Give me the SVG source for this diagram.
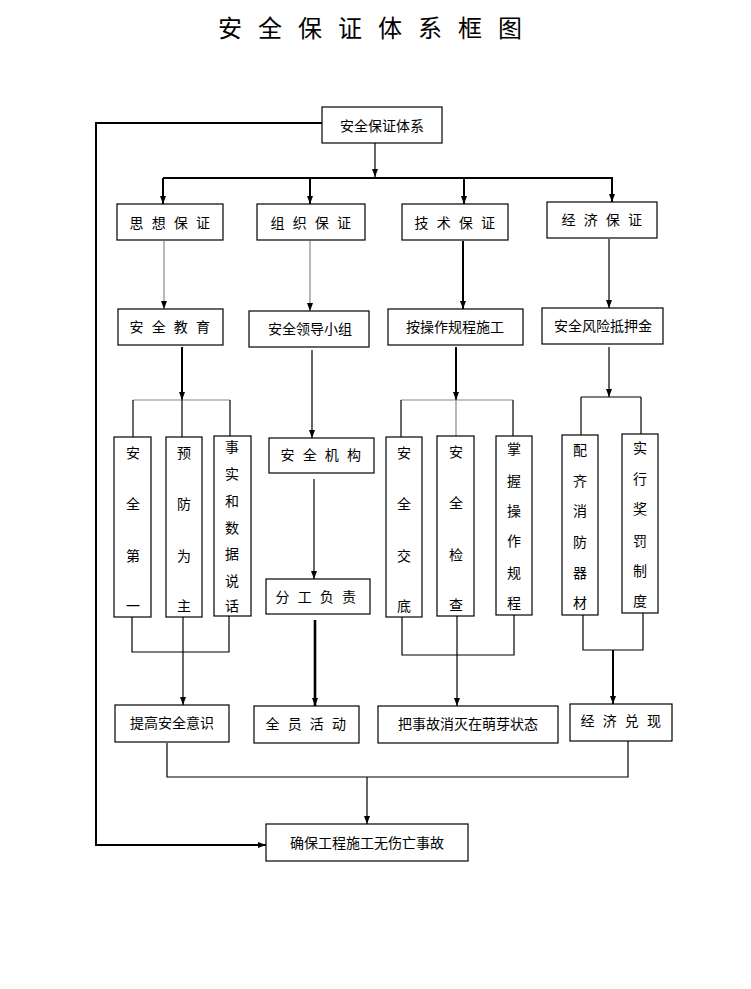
<svg xmlns="http://www.w3.org/2000/svg" width="751" height="989" viewBox="0 0 751 989">
<defs>
<style>
.box{fill:#fff;stroke:#000;stroke-width:1.2}
.t{font-family:"Noto Sans CJK SC","Noto Sans",sans-serif;font-size:14px;fill:#000;text-anchor:middle;dominant-baseline:central}
.sp{letter-spacing:2.5px}
.ln{fill:none;stroke:#000;stroke-width:1.2}
.g{stroke:#888}
.w2{stroke-width:2}
.w3{stroke-width:2.6}
</style>
<marker id="ah" viewBox="0 0 8 6" markerWidth="8" markerHeight="6" refX="8" refY="3" orient="auto" markerUnits="userSpaceOnUse">
<path d="M0,0 L8,3 L0,6 z" fill="#000"/>
</marker>
</defs>
<rect width="751" height="989" fill="#fff"/>
<text x="218" y="26" style="font-family:'Noto Sans CJK SC',sans-serif;font-size:24px;letter-spacing:16px;dominant-baseline:central;fill:#000">安全保证体系框图</text>

<g id="connectors">
<polyline class="ln w2" points="322,123 96,123 96,845 266,845" marker-end="url(#ah)"/>
<line class="ln" x1="375" y1="143" x2="375" y2="177" marker-end="url(#ah)"/>
<line class="ln w2" x1="163" y1="178" x2="613" y2="178"/>
<line class="ln w2" x1="163" y1="178" x2="163" y2="204" marker-end="url(#ah)"/>
<line class="ln w2" x1="310" y1="178" x2="310" y2="204" marker-end="url(#ah)"/>
<line class="ln w2" x1="464" y1="178" x2="464" y2="204" marker-end="url(#ah)"/>
<line class="ln w2" x1="612" y1="178" x2="612" y2="202" marker-end="url(#ah)"/>

<line class="ln g" x1="164" y1="241" x2="164" y2="309" marker-end="url(#ah)"/>
<line class="ln g" x1="310" y1="241" x2="310" y2="311" marker-end="url(#ah)"/>
<line class="ln w2" x1="463" y1="241" x2="463" y2="309" marker-end="url(#ah)"/>
<line class="ln" x1="609" y1="239" x2="609" y2="308" marker-end="url(#ah)"/>

<line class="ln w2" x1="182" y1="347" x2="182" y2="400" marker-end="url(#ah)"/>
<polyline class="ln g" points="133,400 230,400"/>
<line class="ln" x1="133" y1="400" x2="133" y2="437"/>
<line class="ln" x1="182" y1="400" x2="182" y2="437"/>
<line class="ln" x1="230" y1="400" x2="230" y2="436"/>

<line class="ln" x1="312" y1="350" x2="312" y2="438" marker-end="url(#ah)"/>
<line class="ln" x1="314" y1="479" x2="314" y2="579" marker-end="url(#ah)"/>
<line class="ln w3" x1="315" y1="620" x2="315" y2="706" marker-end="url(#ah)"/>

<line class="ln w2" x1="456" y1="347" x2="456" y2="400" marker-end="url(#ah)"/>
<polyline class="ln g" points="401,400 513,400"/>
<line class="ln" x1="401" y1="400" x2="401" y2="437"/>
<line class="ln g" x1="456" y1="400" x2="456" y2="436"/>
<line class="ln" x1="513" y1="400" x2="513" y2="436"/>

<line class="ln" x1="609" y1="347" x2="609" y2="397" marker-end="url(#ah)"/>
<polyline class="ln" points="581,397 641,397"/>
<line class="ln" x1="581" y1="397" x2="581" y2="435"/>
<line class="ln" x1="641" y1="397" x2="641" y2="434"/>

<polyline class="ln" points="132,617 132,652 229,652 229,616"/>
<line class="ln" x1="183" y1="617" x2="183" y2="705" marker-end="url(#ah)"/>
<polyline class="ln" points="402,617 402,655 514,655 514,615"/>
<line class="ln" x1="457" y1="616" x2="457" y2="706" marker-end="url(#ah)"/>
<polyline class="ln" points="583,615 583,650 643,650 643,613"/>
<line class="ln w2" x1="613" y1="650" x2="613" y2="704" marker-end="url(#ah)"/>

<polyline class="ln" points="167,743 167,777 628,777 628,741"/>
<line class="ln" x1="367" y1="777" x2="367" y2="824" marker-end="url(#ah)"/>
</g>

<g id="n-root"><rect class="box" x="322" y="107" width="120" height="36"/><text class="t" x="382" y="125">安全保证体系</text></g>

<g id="n-sixiang"><rect class="box" x="117" y="204" width="106" height="36"/><text class="t sp" x="171" y="222">思 想 保 证</text></g>
<g id="n-zuzhi"><rect class="box" x="257" y="204" width="108" height="36"/><text class="t sp" x="312" y="222">组 织 保 证</text></g>
<g id="n-jishu"><rect class="box" x="402" y="204" width="106" height="36"/><text class="t sp" x="456" y="222">技 术 保 证</text></g>
<g id="n-jingji"><rect class="box" x="547" y="202" width="110" height="36"/><text class="t sp" x="603" y="219">经 济 保 证</text></g>

<g id="n-jiaoyu"><rect class="box" x="118" y="309" width="105" height="36"/><text class="t sp" x="171" y="326">安 全 教 育</text></g>
<g id="n-lingdao"><rect class="box" x="249" y="311" width="120" height="36"/><text class="t" x="310" y="328">安全领导小组</text></g>
<g id="n-guicheng"><rect class="box" x="388" y="309" width="135" height="36"/><text class="t" x="455" y="326">按操作规程施工</text></g>
<g id="n-diya"><rect class="box" x="542" y="308" width="121" height="36"/><text class="t" x="603" y="325">安全风险抵押金</text></g>

<g id="n-diyi"><rect class="box" x="114" y="437" width="37" height="180"/><text class="t"><tspan x="133" y="452">安</tspan><tspan x="133" y="503">全</tspan><tspan x="133" y="555">第</tspan><tspan x="133" y="605">一</tspan></text></g>
<g id="n-yufang"><rect class="box" x="166" y="437" width="36" height="180"/><text class="t"><tspan x="184" y="452">预</tspan><tspan x="184" y="503">防</tspan><tspan x="184" y="555">为</tspan><tspan x="184" y="605">主</tspan></text></g>
<g id="n-shishi"><rect class="box" x="214" y="436" width="37" height="180"/><text class="t"><tspan x="232" y="446">事</tspan><tspan x="232" y="473">实</tspan><tspan x="232" y="500">和</tspan><tspan x="232" y="527">数</tspan><tspan x="232" y="553">据</tspan><tspan x="232" y="580">说</tspan><tspan x="232" y="605">话</tspan></text></g>

<g id="n-jigou"><rect class="box" x="269" y="438" width="105" height="35"/><text class="t sp" x="322" y="454">安 全 机 构</text></g>
<g id="n-fengong"><rect class="box" x="266" y="579" width="104" height="35"/><text class="t sp" x="317" y="596">分 工 负 责</text></g>

<g id="n-jiaodi"><rect class="box" x="386" y="437" width="36" height="180"/><text class="t"><tspan x="404" y="452">安</tspan><tspan x="404" y="503">全</tspan><tspan x="404" y="555">交</tspan><tspan x="404" y="605">底</tspan></text></g>
<g id="n-jiancha"><rect class="box" x="437" y="436" width="37" height="180"/><text class="t"><tspan x="456" y="451">安</tspan><tspan x="456" y="502">全</tspan><tspan x="456" y="554">检</tspan><tspan x="456" y="604">查</tspan></text></g>
<g id="n-zhangwo"><rect class="box" x="496" y="436" width="36" height="179"/><text class="t"><tspan x="514" y="448">掌</tspan><tspan x="514" y="480">握</tspan><tspan x="514" y="510">操</tspan><tspan x="514" y="540">作</tspan><tspan x="514" y="572">规</tspan><tspan x="514" y="602">程</tspan></text></g>
<g id="n-xiaofang"><rect class="box" x="562" y="435" width="36" height="180"/><text class="t"><tspan x="580" y="449">配</tspan><tspan x="580" y="480">齐</tspan><tspan x="580" y="510">消</tspan><tspan x="580" y="541">防</tspan><tspan x="580" y="572">器</tspan><tspan x="580" y="602">材</tspan></text></g>
<g id="n-jiangfa"><rect class="box" x="622" y="434" width="36" height="179"/><text class="t"><tspan x="640" y="447">实</tspan><tspan x="640" y="478">行</tspan><tspan x="640" y="508">奖</tspan><tspan x="640" y="540">罚</tspan><tspan x="640" y="570">制</tspan><tspan x="640" y="600">度</tspan></text></g>

<g id="n-yishi"><rect class="box" x="115" y="705" width="114" height="37"/><text class="t" x="172" y="722">提高安全意识</text></g>
<g id="n-quanyuan"><rect class="box" x="254" y="706" width="105" height="37"/><text class="t sp" x="307" y="723">全 员 活 动</text></g>
<g id="n-mengya"><rect class="box" x="378" y="706" width="180" height="37"/><text class="t" x="468" y="723">把事故消灭在萌芽状态</text></g>
<g id="n-duixian"><rect class="box" x="570" y="704" width="102" height="37"/><text class="t sp" x="622" y="720">经 济 兑 现</text></g>

<g id="n-final"><rect class="box" x="266" y="824" width="202" height="37"/><text class="t" x="367" y="842">确保工程施工无伤亡事故</text></g>
</svg>
